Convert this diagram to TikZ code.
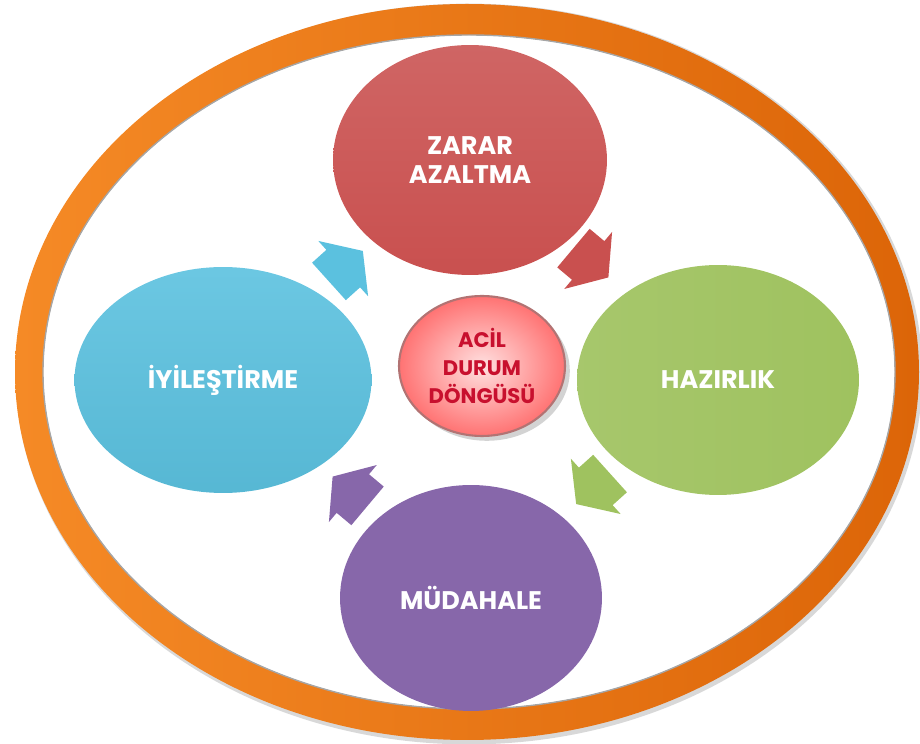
\documentclass[tikz,border=0pt]{standalone}
\usepackage{fontspec}
\setmainfont{Poppins}
\usepackage{tikz}
\usetikzlibrary{shapes.geometric}
\usetikzlibrary{shadows}
\definecolor{ringL}{HTML}{F58A26}
\definecolor{ringR}{HTML}{DC6508}
\definecolor{zararc}{HTML}{C9504F}
\definecolor{hazirc}{HTML}{9FC25F}
\definecolor{iyilesc}{HTML}{5BC1DF}
\definecolor{mudac}{HTML}{8767AA}
\definecolor{acilc}{HTML}{C8102E}
\tikzset{phase/.style = {ellipse, inner sep=0, outer sep=0, text=white, font=\bfseries\fontsize{14.5}{17}\selectfont, align=center}}
\tikzset{cycarrow/.pic = {\fill (-18,-21) -- (-2,-21) -- (-2,-31) -- (20,0) -- (-2,31) -- (-2,21) -- (-18,21) -- cycle;}}
\begin{document}
\begin{tikzpicture}[x=0.02cm,y=0.02cm]
    \useasboundingbox (0,0) rectangle (920,744);
    \draw [black!30, line width=5pt, opacity=0.5] (469,370) ellipse [x radius=449, y radius=366];
    \shade [left color=ringL, right color=ringR, even odd rule] (467,372) ellipse [x radius=452, y radius=368] (469,372) ellipse [x radius=426, y radius=337];
    \draw [black!35, line width=0.8pt] (469,372) ellipse [x radius=426, y radius=337];
    \draw [white, line width=0.8pt] (469,372) ellipse [x radius=424, y radius=335];
    \node [phase, top color=zararc!88!white, bottom color=zararc, minimum width=5.48cm, minimum height=4.6cm] (zarar) at (470,584) {ZARAR\\AZALTMA};
    \node [phase, left color=hazirc!92!white, right color=hazirc, minimum width=5.64cm, minimum height=4.6cm] (hazir) at (718,364) {HAZIRLIK};
    \node [phase, top color=iyilesc!90!white, bottom color=iyilesc!95!black, minimum width=5.94cm, minimum height=4.52cm] (iyiles) at (223,364) {İYİLEŞTİRME};
    \node [phase, fill=mudac, minimum width=5.24cm, minimum height=4.52cm] (muda) at (471,146) {MÜDAHALE};
    \node [ellipse, inner sep=0, minimum width=3.32cm, minimum height=2.8cm, inner color=red!12!white, outer color=red!55!white, draw=red!45!black!55!white, line width=1.2pt, drop shadow={opacity=0.35}, text=acilc, font=\bfseries\fontsize{12}{16}\selectfont, align=center] (acil) at (482,378) {ACİL\\DURUM\\DÖNGÜSÜ};
    \pic [zararc, rotate=-40, scale=1.2] at (590,482) {cycarrow};
    \pic [hazirc, rotate=-138, scale=1.2] at (594,256) {cycarrow};
    \pic [mudac, rotate=140, scale=1.2] at (351,252) {cycarrow};
    \pic [iyilesc, rotate=42, scale=1.2] at (345,477) {cycarrow};
\end{tikzpicture}
\end{document}
